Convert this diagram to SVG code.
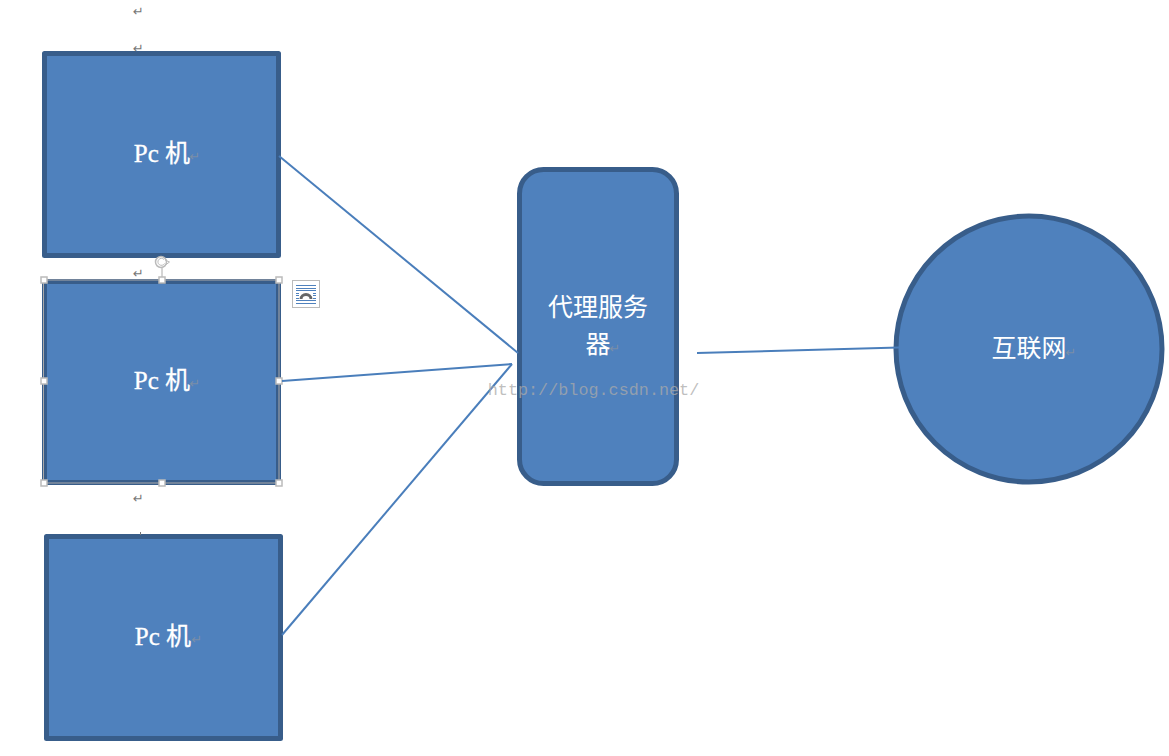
<svg xmlns="http://www.w3.org/2000/svg" width="1169" height="756" viewBox="0 0 1169 756">
<style>
.shape{fill:#4f81bd;stroke:#385d8a;stroke-width:5;stroke-linejoin:round}
.label{font-family:"Liberation Serif","Noto Sans CJK SC",serif;font-size:25px;fill:#fff;text-anchor:middle}
.mark{font-family:"DejaVu Sans",sans-serif;font-size:13px;fill:#777;text-anchor:middle}
.inner{fill:#7a8ea8}
.conn{stroke:#4a7ebb;stroke-width:2;fill:none}
.handle{fill:#fff;stroke:#bbb;stroke-width:1.500}
</style>
<rect width="1169" height="756" fill="#fff"/>
<g id="pc1">
<rect class="shape" x="44.500" y="53.500" width="234" height="202"/>
<text class="label" x="162" y="162" stroke="#fff" stroke-width=".3">Pc 机</text>
<text class="mark inner" x="195" y="161">↵</text>
</g>
<g id="pc2">
<rect class="shape" x="44.500" y="281.500" width="234" height="201"/>
<rect x="43.500" y="280" width="235.500" height="203" fill="none" stroke="#aaa" stroke-width="1"/>
<text class="label" x="162" y="389" stroke="#fff" stroke-width=".3">Pc 机</text>
<text class="mark inner" x="195" y="388">↵</text>
</g>
<g id="selection-handles">
<path d="M162 268V278" stroke="#aaa" fill="none"/>
<circle cx="161" cy="262" r="5.500" fill="#fff" stroke="#bbb" stroke-width="1.500"/>
<path d="M164 259.500A3.500 3.500 0 1 0 164.500 263.500" fill="none" stroke="#bbb"/>
<path d="M165 260L169.500 262L165.500 265" fill="none" stroke="#bbb"/>
<rect class="handle" x="41" y="277" width="6" height="6"/>
<rect class="handle" x="159" y="277" width="6" height="6"/>
<rect class="handle" x="276" y="277" width="6" height="6"/>
<rect class="handle" x="41" y="378" width="6" height="6"/>
<rect class="handle" x="276" y="378" width="6" height="6"/>
<rect class="handle" x="41" y="480" width="6" height="6"/>
<rect class="handle" x="159" y="480" width="6" height="6"/>
<rect class="handle" x="276" y="480" width="6" height="6"/>
</g>
<g id="layout-icon">
<rect x="292.500" y="280.500" width="27" height="27" fill="#fff" stroke="#bbb"/>
<path d="M296 285.500H316M296 288.500H316M296 290.500H316M296 293.500H299M313 293.500H316M296 295.500H299M313 295.500H316M296 298.500H299M313 298.500H316M296 300.500H316M296 303.500H316" stroke="#4f81bd" fill="none"/>
<path d="M301 299A5 4.500 0 0 1 311 299" fill="none" stroke="#666" stroke-width="3"/>
</g>
<g id="pc3">
<rect class="shape" x="46.500" y="536.500" width="234" height="202"/>
<text class="label" x="163" y="645" stroke="#fff" stroke-width=".3">Pc 机</text>
<text class="mark inner" x="197" y="644">↵</text>
</g>
<g id="proxy">
<rect class="shape" x="519.500" y="169.500" width="157" height="314" rx="24"/>
<text class="label" x="598" y="316">代理服务</text>
<text class="label" x="598" y="353">器</text>
<text class="mark inner" x="615" y="353">↵</text>
</g>
<g id="internet">
<circle class="shape" cx="1029" cy="349" r="133"/>
<text class="label" x="1029" y="357">互联网</text>
<text class="mark inner" x="1071" y="357">↵</text>
</g>
<g id="connectors">
<path class="conn" d="M279 156L518 353"/>
<path class="conn" d="M282 381L512 364"/>
<path class="conn" d="M282 635L512 364"/>
<path class="conn" d="M697 353L899 347.500"/>
</g>
<g id="paragraph-marks">
<text class="mark" x="138.500" y="16">↵</text>
<text class="mark" x="138.500" y="53">↵</text>
<text class="mark" x="138.500" y="278">↵</text>
<text class="mark" x="138.500" y="503">↵</text>
<path d="M140.500 532V535" stroke="#777" fill="none"/>
</g>
<text x="593.500" y="395" font-family="Liberation Mono,monospace" font-size="16.800px" fill="#aaa" fill-opacity=".75" text-anchor="middle">http://blog.csdn.net/</text>
</svg>
